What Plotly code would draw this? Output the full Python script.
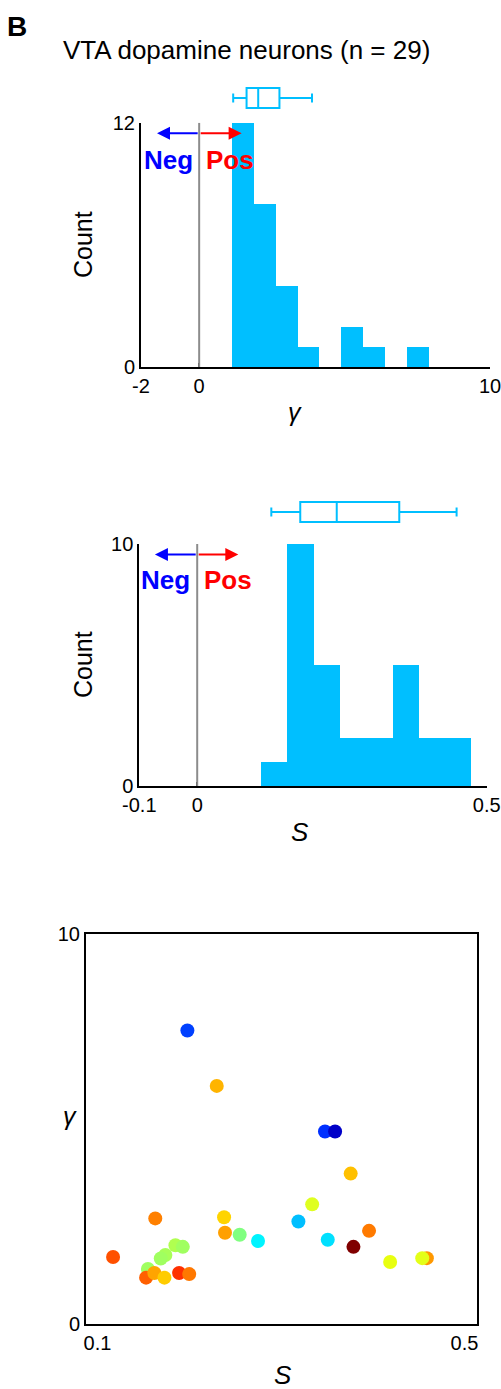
import plotly.graph_objects as go

# ---------------- data ----------------
gamma_edges = [1.12, 1.874, 2.628, 3.382, 4.136, 4.89, 5.644, 6.398, 7.152, 7.906]
gamma_counts = [12, 8, 4, 1, 0, 2, 1, 0, 1]
gamma_box = [1.17, 1.63, 2.03, 2.76, 3.88]  # lower whisker, q1, median, q3, upper whisker
gamma_ticks = [-2, 0, 10]
gamma_ticktext = ["-2", "0", "10"]

s_edges = [0.111, 0.156, 0.202, 0.247, 0.293, 0.338, 0.383, 0.429, 0.474]
s_counts = [1, 10, 5, 2, 2, 5, 2, 2]
s_box = [0.128, 0.178, 0.241, 0.349, 0.448]
s_ticks = [-0.1, 0, 0.5]
s_ticktext = ["-0.1", "0", "0.5"]

scatter_s = [0.198, 0.230, 0.348, 0.359, 0.376, 0.334, 0.163, 0.238, 0.319, 0.396,
             0.239, 0.255, 0.275, 0.351, 0.379, 0.185, 0.193, 0.117, 0.174, 0.169,
             0.419, 0.459, 0.454, 0.155, 0.153, 0.162, 0.173, 0.189, 0.200]
scatter_gamma = [7.53, 6.11, 4.94, 4.94, 3.86, 3.07, 2.71, 2.74, 2.63, 2.39,
                 2.34, 2.29, 2.13, 2.16, 1.98, 2.02, 1.98, 1.72, 1.77, 1.68,
                 1.59, 1.69, 1.69, 1.41, 1.19, 1.31, 1.19, 1.31, 1.28]
scatter_colors = ['#0040ff', '#ffb400', '#0030ff', '#0000c8', '#ffc000', '#dfff20', '#ff8000',
                  '#ffd400', '#00bfff', '#ff7a00', '#ffa000', '#80ff80', '#00f4ff', '#00e0ff',
                  '#800000', '#b0ff50', '#a0ff60', '#ff5000', '#a8ff58', '#a0ff60', '#e8ff10',
                  '#ff9800', '#e4ff18', '#a0ff60', '#ff6000', '#ffa400', '#ffcc00', '#ff3000',
                  '#ff7800']
scatter_xrange = [0.0875, 0.514]
scatter_xticks = [0.1, 0.5]

title_text = "VTA dopamine neurons (n = 29)"
panel_label = "B"

# ---------------- styling ----------------
FONT = "Liberation Sans, Arial, sans-serif"
HIST_COLOR = "#00bfff"
W, H = 501, 1389


def fx(px):
    return px / W


def fy(py):
    return 1 - py / H


def centers(edges):
    return [(a + b) / 2 for a, b in zip(edges[:-1], edges[1:])]


def widths(edges):
    return [b - a for a, b in zip(edges[:-1], edges[1:])]


fig = go.Figure()

# histogram 1 (gamma)
fig.add_trace(go.Bar(x=centers(gamma_edges), y=gamma_counts, width=widths(gamma_edges),
                     marker=dict(color=HIST_COLOR, line=dict(width=0)),
                     xaxis="x", yaxis="y", showlegend=False))
fig.add_trace(go.Box(y=[0], lowerfence=[gamma_box[0]], q1=[gamma_box[1]], median=[gamma_box[2]],
                     q3=[gamma_box[3]], upperfence=[gamma_box[4]], orientation="h",
                     fillcolor="white", line=dict(color=HIST_COLOR, width=2), width=1.0,
                     whiskerwidth=0.45, boxpoints=False, xaxis="x", yaxis="y2", showlegend=False))

# histogram 2 (s)
fig.add_trace(go.Bar(x=centers(s_edges), y=s_counts, width=widths(s_edges),
                     marker=dict(color=HIST_COLOR, line=dict(width=0)),
                     xaxis="x2", yaxis="y3", showlegend=False))
fig.add_trace(go.Box(y=[0], lowerfence=[s_box[0]], q1=[s_box[1]], median=[s_box[2]],
                     q3=[s_box[3]], upperfence=[s_box[4]], orientation="h",
                     fillcolor="white", line=dict(color=HIST_COLOR, width=2), width=1.0,
                     whiskerwidth=0.45, boxpoints=False, xaxis="x2", yaxis="y4", showlegend=False))

# scatter
fig.add_trace(go.Scatter(x=scatter_s, y=scatter_gamma, mode="markers",
                         marker=dict(size=14, color=scatter_colors, line=dict(width=0), opacity=1),
                         xaxis="x3", yaxis="y5", showlegend=False))

tickfont = dict(family=FONT, size=20, color="black")
hist_axis = dict(showline=True, linecolor="black", linewidth=2, showgrid=False, zeroline=False,
                 ticks="inside", ticklen=4, tickwidth=2, tickcolor="black", tickfont=tickfont,
                 automargin=False)

fig.update_layout(
    width=W, height=H, margin=dict(l=0, r=0, t=0, b=0, autoexpand=False),
    paper_bgcolor="white", plot_bgcolor="white",
    bargap=0,
    font=dict(family=FONT, color="black"),
    xaxis=dict(hist_axis, domain=[fx(141), fx(490)], range=[-2, 10], tickvals=gamma_ticks,
               ticktext=gamma_ticktext, anchor="y", ticklabeloverflow="allow"),
    yaxis=dict(hist_axis, domain=[fy(367), fy(122.7)], range=[0, 12], tickvals=[0, 12],
               anchor="x"),
    yaxis2=dict(domain=[fy(118), fy(78)], range=[-1, 1], visible=False, anchor="x"),
    xaxis2=dict(hist_axis, domain=[fx(139.3), fx(486.7)], range=[-0.1, 0.5],
                tickvals=s_ticks, ticktext=s_ticktext, anchor="y3", ticklabeloverflow="allow"),
    yaxis3=dict(hist_axis, domain=[fy(786), fy(544)], range=[0, 10], tickvals=[0, 10],
                anchor="x2"),
    yaxis4=dict(domain=[fy(532), fy(492)], range=[-1, 1], visible=False, anchor="x2"),
    xaxis3=dict(showline=True, mirror=True, linecolor="black", linewidth=2, showgrid=False,
                zeroline=False, ticks="", tickfont=tickfont, domain=[fx(86), fx(477.3)],
                range=scatter_xrange, tickvals=scatter_xticks, ticktext=["0.1", "0.5"],
                anchor="y5", automargin=False, ticklabeloverflow="allow"),
    yaxis5=dict(showline=True, mirror=True, linecolor="black", linewidth=2, showgrid=False,
                zeroline=False, ticks="", tickfont=tickfont, domain=[fy(1324), fy(934.3)],
                range=[0, 10], tickvals=[0, 10], anchor="x3", automargin=False),
)

# zero lines
fig.add_shape(type="line", xref="x", yref="y", x0=0, x1=0, y0=0, y1=12,
              line=dict(color="#8c8c8c", width=2))
fig.add_shape(type="line", xref="x2", yref="y3", x0=0, x1=0, y0=0, y1=10,
              line=dict(color="#8c8c8c", width=2))

ann = []
# arrows hist1
for tip, col in [(-1.45, "#0000ff"), (1.46, "#ff0000")]:
    ann.append(dict(x=tip, y=11.48, ax=0, ay=11.48, xref="x", yref="y", axref="x", ayref="y",
                    text="", showarrow=True, arrowhead=2, arrowsize=1.3, arrowwidth=2,
                    arrowcolor=col))
ann.append(dict(x=-0.14, y=10.17, xref="x", yref="y", text="<b>Neg</b>", showarrow=False,
                xanchor="right", yanchor="middle", font=dict(family=FONT, size=26, color="#0000ff")))
ann.append(dict(x=0.17, y=10.17, xref="x", yref="y", text="<b>Pos</b>", showarrow=False,
                xanchor="left", yanchor="middle", font=dict(family=FONT, size=26, color="#ff0000")))
# arrows hist2
for tip, col in [(-0.073, "#0000ff"), (0.071, "#ff0000")]:
    ann.append(dict(x=tip, y=9.57, ax=0, ay=9.57, xref="x2", yref="y3", axref="x2", ayref="y3",
                    text="", showarrow=True, arrowhead=2, arrowsize=1.3, arrowwidth=2,
                    arrowcolor=col))
ann.append(dict(x=-0.0095, y=8.51, xref="x2", yref="y3", text="<b>Neg</b>", showarrow=False,
                xanchor="right", yanchor="middle", font=dict(family=FONT, size=26, color="#0000ff")))
ann.append(dict(x=0.008, y=8.51, xref="x2", yref="y3", text="<b>Pos</b>", showarrow=False,
                xanchor="left", yanchor="middle", font=dict(family=FONT, size=26, color="#ff0000")))

# titles and axis labels
def paper_text(text, px, py, size, angle=0):
    return dict(x=fx(px), y=fy(py), xref="paper", yref="paper", text=text, showarrow=False,
                xanchor="center", yanchor="middle", textangle=angle,
                font=dict(family=FONT, size=size, color="black"))

ann.append(paper_text("<b>" + panel_label + "</b>", 17, 26, 28))
ann.append(paper_text(title_text, 246, 50, 26))
ann.append(paper_text("Count", 83, 245, 25, angle=-90))
ann.append(paper_text("<i>γ</i>", 295, 412, 25))
ann.append(paper_text("Count", 83, 665, 25, angle=-90))
ann.append(paper_text("<i>S</i>", 300, 832, 26))
ann.append(paper_text("<i>γ</i>", 70, 1116, 25))
ann.append(paper_text("<i>S</i>", 283, 1375, 26))

fig.update_layout(annotations=ann)

fig.write_html("out.html")
